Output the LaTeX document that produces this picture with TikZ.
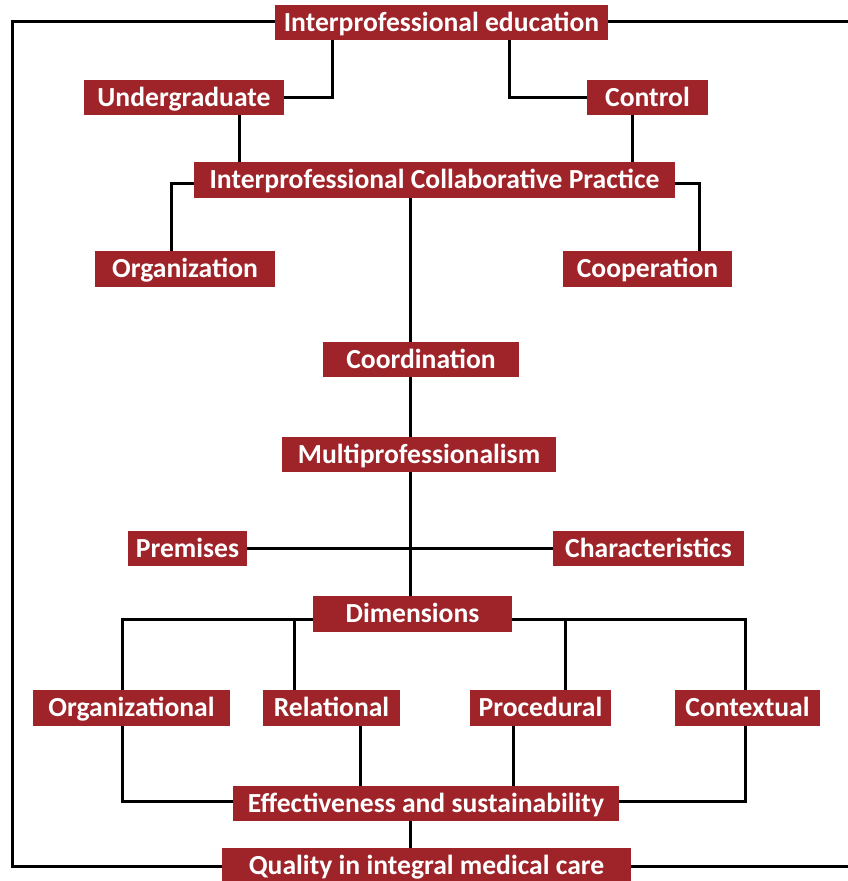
\documentclass[tikz,border=0pt]{standalone}
\usepackage{fontspec}
\setmainfont{Carlito}
\usetikzlibrary{backgrounds}
\definecolor{boxred}{RGB}{158,36,41}
\tikzset{
  box/.style={fill=boxred, text=white, font=\bfseries\fontsize{27.6}{32}\selectfont,
    minimum height=35, inner sep=0pt, text height=17.8pt, text depth=0pt, anchor=center},
  conn/.style={draw=black, line width=3pt, line cap=rect}
}
\begin{document}
\begin{tikzpicture}[x=1pt,y=-1pt]
\useasboundingbox (0,0) rectangle (847,881);
\clip (0,0) rectangle (847,881);
\node[box, minimum width=333] (ie) at (441.5,22.5) {Interprofessional education};
\node[box, minimum width=200] (ug) at (184,97.5) {Undergraduate};
\node[box, minimum width=121] (ctl) at (647.5,97.5) {Control};
\node[box, minimum width=481, minimum height=36] (icp) at (434.5,180) {Interprofessional Collaborative Practice};
\node[box, minimum width=180, minimum height=36] (org) at (185,268.5) {Organization};
\node[box, minimum width=169, minimum height=36] (coop) at (647.5,268.5) {Cooperation};
\node[box, minimum width=196] (coord) at (421,359.5) {Coordination};
\node[box, minimum width=274] (multi) at (419,454.5) {Multiprofessionalism};
\node[box, minimum width=119] (prem) at (187.5,548.5) {Premises};
\node[box, minimum width=191] (char) at (648.5,548.5) {Characteristics};
\node[box, minimum width=199, minimum height=36] (dim) at (412.5,614) {Dimensions};
\node[box, minimum width=197, minimum height=36] (orgl) at (131.5,708) {Organizational};
\node[box, minimum width=137, minimum height=36] (rel) at (331.5,708) {Relational};
\node[box, minimum width=141, minimum height=36] (proc) at (540.5,708) {Procedural};
\node[box, minimum width=145, minimum height=36] (ctx) at (747.5,708) {Contextual};
\node[box, minimum width=386] (eff) at (426,803.5) {Effectiveness and sustainability};
\node[box, minimum width=409] (qual) at (426.5,865.5) {Quality in integral medical care};
\coordinate (x1) at (332,0);
\coordinate (x2) at (509,0);
\coordinate (x3) at (239,0);
\coordinate (x4) at (632,0);
\coordinate (x5) at (171,0);
\coordinate (x6) at (699,0);
\coordinate (xm) at (410,0);
\coordinate (x7) at (122,0);
\coordinate (x8) at (294,0);
\coordinate (x9) at (565,0);
\coordinate (x10) at (745,0);
\coordinate (x11) at (360,0);
\coordinate (x12) at (513,0);
\coordinate (xl) at (12,0);
\coordinate (xr) at (870,0);
\coordinate (y0) at (0,21.5);
\coordinate (y1) at (0,183);
\coordinate (y2) at (0,619);
\coordinate (y3) at (0,801);
\coordinate (y4) at (0,866);
\begin{scope}[on background layer]
\draw[conn] (ie.south -| x1) |- (ug.east);
\draw[conn] (ie.south -| x2) |- (ctl.west);
\draw[conn] (ug.south -| x3) -- (icp.north -| x3);
\draw[conn] (ctl.south -| x4) -- (icp.north -| x4);
\draw[conn] (icp.west |- y1) -| (org.north -| x5);
\draw[conn] (icp.east |- y1) -| (coop.north -| x6);
\draw[conn] (icp.south -| xm) -- (coord.north -| xm);
\draw[conn] (coord.south -| xm) -- (multi.north -| xm);
\draw[conn] (multi.south -| xm) -- (dim.north -| xm);
\draw[conn] (prem.east) -- (char.west);
\draw[conn] (dim.west |- y2) -| (orgl.north -| x7);
\draw[conn] (dim.west |- y2) -| (rel.north -| x8);
\draw[conn] (dim.east |- y2) -| (ctx.north -| x10);
\draw[conn] (dim.east |- y2) -| (proc.north -| x9);
\draw[conn] (orgl.south -| x7) |- (eff.west |- y3);
\draw[conn] (rel.south -| x11) -- (eff.north -| x11);
\draw[conn] (proc.south -| x12) -- (eff.north -| x12);
\draw[conn] (ctx.south -| x10) |- (eff.east |- y3);
\draw[conn] (eff.south -| xm) -- (qual.north -| xm);
\draw[conn, line cap=butt] (qual.west |- y4) -| (xl |- y0) -- (ie.west |- y0);
\draw[conn, line cap=butt] (ie.east |- y0) -- (xr |- y0) -- (xr |- y4) -- (qual.east |- y4);
\end{scope}
\end{tikzpicture}
\end{document}
